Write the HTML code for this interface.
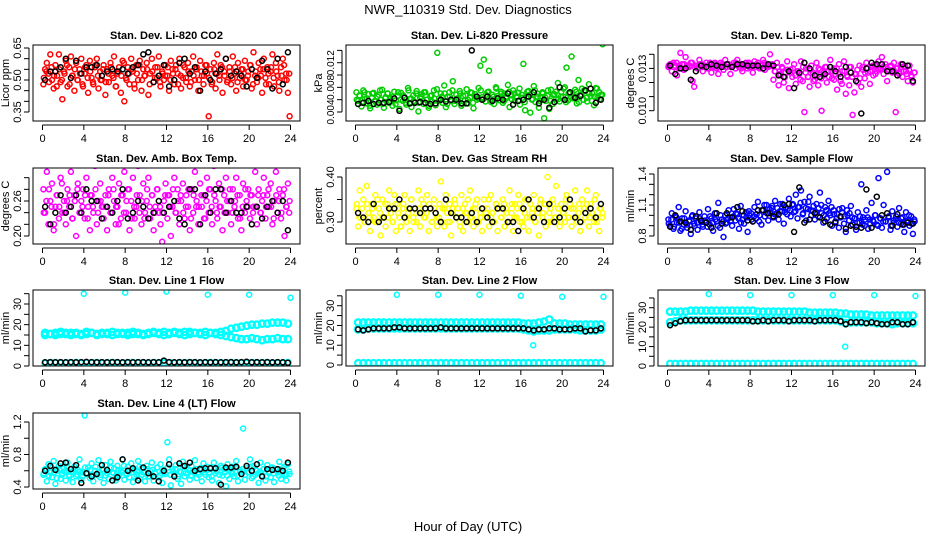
<!DOCTYPE html>
<html><head><meta charset="utf-8"><style>
html,body{margin:0;padding:0;background:#fff}
svg{display:block}
text{font-family:"Liberation Sans",Arial,sans-serif;fill:#000}
</style></head><body>
<svg id="chart" width="936" height="540" viewBox="0 0 936 540" xmlns="http://www.w3.org/2000/svg">
<rect x="0" y="0" width="936" height="540" fill="#fff"/>
<text x="468" y="14" font-size="13" text-anchor="middle">NWR_110319  Std. Dev. Diagnostics</text>
<text x="468" y="531" font-size="13" text-anchor="middle">Hour of Day (UTC)</text>
</svg>
<script>
const xTicks=[0,4,8,12,16,20,24];
// ---- panel 1 CO2 ----
const co2Cyan=[.48,.55,.58,.53,.62,.50,.46,.57,.52,.62,.49,.41,.54,.59,.47,.56,.61,.52,.45,.58,.50,.55,.60,.47,.53,.57,.44,.59,.51,.48,.56,.60,.46,.54,.50,.57,.43,.55,.49,.58,.52,.61,.47,.53,.56,.44,.59,.40,.51,.56,.48,.60,.54,.46,.57,.50,.59,.45,.55,.52,.58,.43,.53,.60,.49,.56,.51,.61,.47,.54,.50,.57,.52,.45,.59,.55,.48,.57,.53,.60,.46,.51,.56,.49,.58,.47,.54,.61,.50,.56,.45,.59,.52,.48,.57,.53,.33,.55,.49,.58,.46,.62,.52,.57,.44,.54,.60,.50,.56,.48,.61,.53,.45,.58,.51,.55,.47,.59,.50,.54,.57,.46,.63,.52,.49,.58,.55,.44,.60,.51,.56,.48,.54,.62,.47,.58,.52,.45,.56,.60,.50,.53,.44,.33];
const co2Core=[.51,.54,.49,.56,.52,.47,.55,.50,.53,.57,.48,.52,.55,.50,.53,.48,.56,.51,.54,.49,.57,.52,.50,.55,.49,.53,.56,.51,.47,.54,.52,.58,.50,.53,.55,.48,.53,.57,.50,.52,.55,.48,.54,.51,.56,.49,.53,.52,.56,.50,.53,.55,.48,.52,.57,.51,.54,.49,.52,.55,.50,.54,.52,.57,.51,.48,.55,.53,.50,.56,.52,.49,.54,.51,.56,.49,.53,.55,.50,.52,.57,.48,.54,.51,.52,.55,.48,.53,.56,.51,.54,.49,.52,.57,.50,.53];
const co2Black=[.50,.54,.54,.56,.60,.51,.59,.53,.56,.56,.57,.52,.54,.55,.54,.55,.53,.56,.57,.62,.63,.49,.52,.57,.47,.50,.58,.60,.53,.56,.45,.54,.50,.53,.55,.60,.52,.54,.52,.47,.55,.51,.59,.55,.46,.60,.48,.63];
// ---- panel 2 pressure ----
const presColor=[.0072,.0058,.0066,.0049,.0075,.0061,.0054,.0069,.0046,.0063,.0071,.0057,.0052,.0068,.0060,.0076,.0047,.0064,.0070,.0055,.0062,.0050,.0073,.0059,.0066,.0045,.0071,.0058,.0064,.0052,.0079,.0061,.0048,.0067,.0056,.0074,.0041,.0063,.0069,.0053,.0072,.0060,.0047,.0066,.0057,.0075,.0051,.0136,.0062,.0070,.0055,.0083,.0048,.0065,.0072,.0058,.0090,.0053,.0068,.0061,.0074,.0050,.0066,.0059,.0077,.0054,.0063,.0071,.0046,.0069,.0060,.0079,.0115,.0064,.0125,.0057,.0072,.0107,.0061,.0068,.0053,.0080,.0066,.0059,.0073,.0055,.0070,.0062,.0084,.0048,.0067,.0075,.0058,.0064,.0071,.0052,.0068,.0118,.0043,.0065,.0074,.0039,.0060,.0082,.0056,.0070,.0047,.0063,.0072,.0030,.0058,.0066,.0045,.0076,.0053,.0069,.0061,.0087,.0057,.0073,.0065,.0080,.0112,.0059,.0071,.0130,.0062,.0076,.0054,.0092,.0068,.0078,.0060,.0074,.0057,.0085,.0066,.0070,.0051,.0079,.0063,.0072,.0068,.0150];
const presCore=[.0060,.0067,.0055,.0072,.0062,.0050,.0070,.0058,.0065,.0075,.0053,.0062,.0070,.0058,.0065,.0053,.0072,.0060,.0067,.0055,.0075,.0062,.0058,.0070,.0055,.0065,.0072,.0060,.0050,.0067,.0062,.0077,.0058,.0065,.0070,.0053,.0065,.0075,.0058,.0062,.0070,.0053,.0067,.0060,.0072,.0055,.0065,.0062,.0075,.0061,.0068,.0073,.0056,.0065,.0078,.0063,.0070,.0058,.0065,.0073,.0061,.0070,.0065,.0078,.0063,.0056,.0073,.0068,.0061,.0075,.0065,.0058,.0070,.0063,.0075,.0058,.0068,.0073,.0061,.0065,.0078,.0056,.0070,.0063,.0065,.0073,.0056,.0068,.0075,.0063,.0070,.0058,.0065,.0078,.0061,.0068];
const presBlack=[.0053,.0055,.0058,.0053,.0055,.0055,.0056,.0062,.0042,.0063,.0054,.0055,.0056,.0055,.0053,.0054,.0060,.0057,.0060,.0060,.0054,.0054,.0140,.0065,.0060,.0065,.0058,.0062,.0060,.0070,.0052,.0058,.0060,.0065,.0072,.0054,.0060,.0047,.0056,.0080,.0060,.0072,.0063,.0066,.0075,.0078,.0055,.0060];
// ---- panel 3 Li-820 temp ----
const tempColor=[.0131,.0133,.0128,.0134,.0132,.0125,.0130,.0141,.0133,.0129,.0138,.0132,.0131,.0134,.0121,.0117,.0132,.0130,.0136,.0133,.0128,.0132,.0134,.0130,.0133,.0127,.0131,.0134,.0130,.0126,.0132,.0133,.0129,.0136,.0131,.0133,.0126,.0132,.0134,.0130,.0136,.0131,.0133,.0128,.0132,.0134,.0130,.0131,.0133,.0127,.0135,.0131,.0134,.0130,.0132,.0136,.0129,.0133,.0131,.0140,.0132,.0122,.0128,.0134,.0118,.0125,.0131,.0120,.0127,.0135,.0116,.0129,.0124,.0133,.0119,.0128,.0126,.0135,.0121,.0099,.0130,.0124,.0117,.0132,.0127,.0122,.0134,.0118,.0129,.0100,.0125,.0131,.0120,.0128,.0136,.0123,.0130,.0126,.0115,.0133,.0121,.0128,.0135,.0112,.0124,.0118,.0131,.0097,.0113,.0126,.0120,.0132,.0117,.0129,.0123,.0134,.0127,.0119,.0131,.0125,.0132,.0128,.0135,.0130,.0138,.0126,.0133,.0121,.0129,.0131,.0127,.0134,.0099,.0130,.0126,.0133,.0124,.0131,.0128,.0121,.0132,.0125,.0120,.0127];
const tempCore=[.0132,.0133,.0131,.0134,.0132,.0130,.0133,.0131,.0132,.0134,.0131,.0132,.0133,.0131,.0132,.0130,.0134,.0132,.0133,.0131,.0134,.0132,.0131,.0133,.0131,.0132,.0134,.0132,.0130,.0133,.0132,.0134,.0131,.0132,.0133,.0131,.0132,.0134,.0131,.0132,.0133,.0128,.0131,.0126,.0130,.0124,.0129,.0127,.0130,.0125,.0128,.0122,.0131,.0127,.0124,.0129,.0121,.0126,.0130,.0123,.0127,.0131,.0124,.0128,.0122,.0130,.0126,.0119,.0128,.0125,.0131,.0124,.0126,.0129,.0123,.0131,.0127,.0130,.0128,.0132,.0126,.0130,.0129,.0131,.0131,.0128,.0132,.0129,.0130,.0127,.0131,.0128,.0126,.0129,.0124,.0127];
const tempBlack=[.0132,.0126,.0130,.0130,.0122,.0128,.0132,.0131,.0133,.0132,.0131,.0133,.0131,.0133,.0133,.0132,.0132,.0132,.0130,.0133,.0132,.0125,.0124,.0128,.0116,.0127,.0134,.0130,.0125,.0124,.0126,.0131,.0128,.0124,.0131,.0127,.0121,.0098,.0130,.0134,.0133,.0133,.0128,.0128,.0125,.0133,.0132,.0121];
// ---- panel 4 amb box temp ----
const ambColor=[.28,.24,.31,.22,.26,.29,.21,.25,.27,.23,.30,.24,.26,.22,.28,.25,.31,.23,.27,.20,.29,.24,.26,.28,.23,.30,.25,.21,.27,.24,.32,.22,.26,.29,.25,.23,.27,.21,.28,.24,.30,.26,.22,.25,.29,.23,.27,.31,.24,.28,.21,.26,.30,.23,.25,.32,.27,.22,.29,.24,.26,.30,.23,.27,.21,.25,.28,.24,.22,.19,.26,.29,.23,.27,.20,.25,.30,.24,.28,.22,.26,.29,.23,.27,.25,.21,.28,.24,.31,.26,.22,.29,.25,.27,.23,.30,.24,.28,.22,.32,.26,.23,.29,.25,.21,.27,.30,.24,.26,.22,.28,.25,.30,.23,.27,.21,.29,.24,.26,.28,.23,.27,.25,.31,.22,.28,.24,.26,.30,.23,.27,.25,.29,.22,.26,.31,.24,.28,.23,.27,.20,.25,.29,.26];
const ambCore=[.24,.26,.28,.25,.22,.27,.25,.29,.24,.26,.27,.23,.26,.28,.24,.25,.27,.23,.27,.25,.28,.24,.26,.25,.25,.27,.24,.28,.25,.22,.27,.24,.26,.28,.23,.25,.27,.24,.26,.23,.28,.25,.27,.24,.28,.25,.24,.27,.27,.25,.28,.24,.26,.27,.24,.25,.28,.23,.27,.25,.25,.27,.23,.26,.28,.25,.27,.24,.25,.28,.24,.26,.28,.24,.26,.27,.23,.25,.28,.25,.27,.24,.25,.27,.24,.27,.25,.28,.25,.23,.27,.26,.24,.28,.25,.24];
const ambBlack=[.25,.22,.24,.27,.24,.25,.27,.24,.28,.26,.26,.23,.25,.24,.26,.28,.23,.24,.26,.25,.23,.24,.26,.24,.25,.26,.23,.22,.28,.28,.22,.27,.24,.28,.28,.24,.26,.24,.24,.25,.22,.25,.23,.25,.26,.24,.26,.21];
// ---- panel 5 RH ----
const rhColor=[.33,.29,.37,.31,.35,.30,.38,.32,.28,.34,.31,.36,.30,.33,.27,.35,.31,.29,.34,.37,.32,.30,.36,.28,.34,.31,.29,.33,.36,.30,.32,.28,.35,.31,.33,.30,.37,.29,.32,.34,.31,.36,.28,.33,.30,.35,.32,.29,.31,.39,.33,.29,.36,.30,.34,.27,.32,.35,.31,.33,.30,.36,.28,.34,.32,.30,.37,.31,.29,.33,.35,.30,.32,.28,.35,.31,.33,.29,.36,.32,.30,.34,.28,.33,.31,.35,.29,.33,.30,.37,.32,.28,.34,.31,.36,.30,.33,.29,.35,.31,.28,.34,.32,.36,.30,.33,.27,.35,.31,.34,.29,.40,.32,.30,.35,.31,.38,.33,.29,.34,.32,.30,.36,.31,.34,.29,.33,.37,.30,.32,.28,.35,.33,.31,.37,.29,.34,.32,.30,.36,.31,.28,.33,.32];
const rhCore=[.34,.31,.33,.30,.34,.31,.33,.30,.35,.32,.31,.34,.31,.33,.30,.34,.32,.29,.34,.31,.33,.35,.30,.32,.33,.35,.31,.32,.34,.30,.33,.31,.34,.30,.33,.32,.30,.33,.34,.31,.29,.33,.32,.35,.31,.33,.34,.30,.31,.33,.32,.35,.31,.30,.34,.33,.31,.34,.32,.30,.34,.31,.33,.34,.30,.32,.35,.31,.33,.30,.32,.34,.32,.34,.30,.33,.34,.31,.33,.30,.32,.35,.31,.33,.33,.31,.34,.30,.33,.34,.31,.32,.35,.30,.33,.31];
const rhBlack=[.32,.31,.30,.34,.30,.31,.33,.33,.35,.31,.33,.33,.32,.33,.33,.32,.30,.35,.32,.31,.31,.30,.32,.30,.33,.31,.30,.33,.33,.30,.30,.28,.33,.35,.31,.33,.30,.34,.30,.31,.33,.35,.31,.30,.32,.33,.31,.34];
// ---- panel 6 sample flow ----
const sfColor=[.96,.90,1.02,.87,.99,.93,1.08,.85,.97,.91,1.04,.88,.95,.82,1.00,.92,.97,.86,1.03,.94,.89,.99,.93,1.06,.91,.97,.85,1.02,.94,1.12,.88,.96,.79,1.00,.93,1.05,.98,.90,1.06,.95,1.01,.87,1.09,.96,.92,1.03,.84,1.00,1.02,.94,1.08,.97,1.13,1.00,.91,1.05,.99,1.10,.95,1.03,1.07,.98,1.14,1.02,.96,1.11,1.04,.92,1.08,1.01,1.16,.99,1.10,1.03,1.20,.97,1.08,1.24,1.01,1.13,.95,1.06,1.18,1.00,1.04,.96,1.11,.99,1.22,1.02,.93,1.08,.97,1.14,1.00,.90,1.05,.94,1.01,.88,.98,1.07,.92,.84,1.00,.95,1.09,.91,.97,.86,1.03,.93,1.30,.98,.90,1.05,.87,.96,1.12,.94,1.00,.91,1.36,.97,.88,1.10,.94,1.42,.99,.86,1.04,.93,.96,.89,1.07,.92,.98,.84,1.03,.95,.90,.99,.82,.94];
const sfCore=[.92,.96,.89,.98,.93,.87,.97,.91,.94,.99,.90,.93,.97,.91,.95,.89,.99,.93,.96,.90,1.00,.94,.92,.97,.95,.99,1.02,.97,.93,1.00,.98,1.04,.96,.99,1.01,.94,1.05,1.10,1.02,1.06,1.09,1.01,1.07,1.04,1.11,1.03,1.06,1.05,1.11,1.04,1.08,1.12,1.02,1.07,1.13,1.05,1.09,1.03,1.07,1.10,1.00,1.05,1.02,1.08,1.01,.97,1.06,1.03,.99,1.05,1.02,.98,.97,.93,.99,.91,.96,.98,.92,.95,1.00,.90,.97,.94,.94,.98,.90,.95,.99,.93,.97,.91,.94,1.00,.92,.96];
const sfBlack=[.89,1.00,.94,.93,.86,.99,.95,.93,.88,1.02,.92,1.02,.98,1.08,1.04,.95,.94,1.05,1.05,1.02,.99,1.01,1.10,1.11,.84,1.27,.93,.96,1.02,.98,.94,.91,.93,.99,.87,.90,.89,.88,1.25,.88,1.18,1.00,1.02,.90,1.01,.91,.93,.92];
// ---- line flows (half-hour bands) ----
const l1BandA=[16,15.5,16,16.5,15.5,16,16,15.5,16.5,16,15.5,16,16,16.5,15.5,16,16,16.5,16,15.5,16,16.5,16,16.5,16,16.5,16,16.5,16.5,16,16,16.5,16,16,16.5,17,18,18.5,19,19.5,20,20,20.5,20.5,21,21,21,20.5];
const l1BandB=[15,15.5,15,15.5,16,15,15.5,15,15.5,16,15,15.5,15.5,15,16,15.5,15,15.5,15.5,15,15.5,16,15.5,15,15.5,16,15.5,15,15.5,16,15.5,15,16,15.5,15,14.5,14,13.5,13,13,13.5,13,12.5,13,13,13.5,13,13];
const l1BandLow=[1.4,1.5,1.6,1.4,1.5,1.5,1.6,1.4,1.5,1.5,1.6,1.4,1.5,1.6,1.5,1.4,1.5,1.6,1.5,1.5,1.4,1.6,1.5,1.5,1.6,1.4,1.5,1.5,1.6,1.5,1.4,1.5,1.6,1.5,1.5,1.4,1.6,1.5,1.5,1.4,1.6,1.5,1.5,1.6,1.4,1.5,1.5,1.6];
const l1Black=[1.8,1.9,1.8,1.9,1.8,1.9,1.8,1.9,2.0,1.9,1.8,1.9,1.8,1.9,1.9,1.8,1.9,1.8,1.9,1.9,1.8,1.9,1.8,2.6,1.9,1.8,1.9,1.8,1.9,1.9,1.8,1.9,1.8,1.9,1.8,1.9,1.9,1.8,1.9,2.1,1.8,1.9,1.8,1.9,1.8,1.9,1.8,1.6];
const l1OutHours=[4,8,12,16,20,24];
const l1OutVals=[35,35.5,36,34.5,34.5,33];
const l2BandA=[21.5,21.5,21.5,21.5,21.5,21.5,21.5,21.5,21.5,21.5,21.5,21.5,21.5,21.5,21.5,21.5,21.5,21.5,21.5,21.5,21.5,21.5,21.5,21.5,21.5,21.5,21.5,21.5,21.5,21.5,21.5,21.5,21,21,21,21.5,22,23,21,21,21,20.5,20.5,20.5,20.5,20.5,20.5,20.5];
const l2BandB=[18,18,18.5,18.5,18.5,18.5,18.5,18.5,18.5,18.5,18.5,18.5,18.5,18.5,18.5,18.5,18.5,18.5,18.5,18.5,18.5,18.5,18.5,18.5,18.5,18.5,18.5,18.5,18.5,18.5,18.5,18.5,18,17.5,17,17.5,17.5,17.5,18,18,18,18,18,17.5,17.5,17.5,17.5,18];
const l2BandLow=[1,1,1,1,1,1,1,1,1,1,1,1,1,1,1,1,1,1,1,1,1,1,1,1,1,1,1,1,1,1,1,1,1,1,1,1,1,1,1,1,1,1,1,1,1,1,1,1];
const l2Black=[18,17.5,18,18.5,18.5,18.5,18.5,19,19,18.5,18.5,18.5,18.5,18.5,18.5,18.5,19,18.5,18.5,18.5,18.5,18.5,18.5,18.5,18.5,18.5,18.5,18.5,18.5,18.5,18.5,18.5,18.5,18,17.5,18,18,18.5,18.5,18,18,18,18.5,18.5,17,17.5,17.5,18.5];
const l2OutHours=[4,8,12,16,17.2,20,24];
const l2OutVals=[35.5,35.5,35.5,35,10,34.5,34.5];
const l3BandA=[28,28,28,28,28.5,28.5,28.5,28.5,28.5,28.5,28.5,28.5,28.5,28.5,28.5,28.5,28.5,28,28,28,28,28,28,28,28,28,28,27.5,27.5,27.5,27.5,27.5,27.5,27,27,26.5,26.5,26.5,26.5,26,26,26,26,26,26,26,26,26];
const l3BandB=[22.5,23,23.5,23.5,23.5,23.5,23.5,23.5,23.5,23.5,23.5,23.5,23.5,23.5,23.5,23.5,23.5,23.5,23.5,23.5,23.5,23.5,23.5,23.5,23.5,23.5,23.5,23.5,23.5,23.5,23.5,23.5,23.5,23,22,22.5,22.5,22.5,22.5,22.5,22,22,22,21.5,22,22,22,22];
const l3BandLow=[1.2,1.2,1.2,1.2,1.2,1.2,1.2,1.2,1.2,1.2,1.2,1.2,1.2,1.2,1.2,1.2,1.2,1.2,1.2,1.2,1.2,1.2,1.2,1.2,1.2,1.2,1.2,1.2,1.2,1.2,1.2,1.2,1.2,1.2,1.2,1.2,1.2,1.2,1.2,1.2,1.2,1.2,1.2,1.2,1.2,1.2,1.2,1.2];
const l3Black=[21,22,23,23.5,23.5,23.5,23.5,23.5,23.5,23.5,23.5,23.5,23.5,23.5,23.5,23.5,23,23,23.5,23,23.5,23.5,23.5,23,23.5,23.5,23.5,23.5,23,23.5,23.5,23.5,23.5,23,21.5,22.5,22.5,22.5,22,22.5,22,21.5,21.5,22.5,22.5,21.5,21.5,22.5];
const l3OutHours=[4,8,12,16,17.2,20,24];
const l3OutVals=[37,36.5,36.5,36.5,10,36.5,36];
// ---- panel 10 line 4 ----
const l4Color=[.55,.62,.47,.68,.58,.52,.72,.44,.60,.66,.50,.57,.63,.48,.70,.55,.59,.46,.65,.53,.61,.74,.49,.58,1.28,.56,.64,.51,.69,.47,.60,.55,.73,.52,.62,.45,.67,.57,.50,.71,.58,.63,.48,.66,.54,.60,.74,.49,.57,.65,.52,.69,.46,.61,.55,.72,.50,.63,.58,.47,.66,.53,.60,.70,.48,.57,.64,.52,.68,.45,.61,.56,.95,.74,.42,.62,.55,.67,.50,.59,.44,.71,.53,.64,.57,.49,.66,.60,.73,.51,.58,.63,.47,.69,.55,.61,.52,.64,.48,.70,.57,.60,.45,.66,.54,.62,.41,.68,.50,.59,.65,.53,.72,.47,.61,.56,1.12,.49,.63,.58,.74,.51,.66,.55,.60,.45,.70,.54,.62,.48,.67,.57,.52,.64,.46,.61,.58,.71,.50,.63,.55,.48,.68,.56];
const l4Core=[.57,.61,.54,.64,.58,.51,.62,.55,.59,.65,.53,.58,.62,.55,.59,.53,.64,.57,.61,.54,.65,.58,.55,.62,.54,.59,.64,.57,.51,.61,.58,.66,.55,.59,.62,.53,.59,.65,.55,.58,.62,.53,.61,.57,.64,.54,.59,.58,.64,.55,.59,.62,.53,.58,.65,.57,.61,.54,.58,.62,.55,.61,.58,.65,.57,.53,.62,.59,.55,.64,.58,.54,.61,.57,.64,.54,.59,.62,.55,.58,.65,.53,.61,.57,.58,.62,.53,.59,.64,.57,.61,.54,.58,.65,.55,.59];
const l4Black=[.60,.66,.61,.69,.70,.62,.67,.45,.57,.53,.56,.67,.61,.48,.52,.74,.60,.63,.48,.64,.57,.53,.47,.60,.68,.53,.69,.66,.70,.60,.62,.63,.63,.63,.43,.64,.64,.65,.56,.66,.60,.68,.53,.62,.61,.62,.60,.70];

const NS='http://www.w3.org/2000/svg';
const svg=document.getElementById('chart');
function mk(tag,attrs,parent){const e=document.createElementNS(NS,tag);for(const k in attrs)e.setAttribute(k,attrs[k]);(parent||svg).appendChild(e);return e;}

const colX=[33,346,658], rowY=[45,168,290,413], PW=267, PH=76;
function panel(cfg){
  const L=colX[cfg.col],T=rowY[cfg.row];
  const g=mk('g',{});
  
  
  const xs=h=>L+9.5+h*(248/24);
  const ys=v=>cfg.p1+(v-cfg.v1)*(cfg.p2-cfg.p1)/(cfg.v2-cfg.v1);
  const t=mk('text',{x:L+PW/2,y:T-6,'font-size':'11','font-weight':'bold','text-anchor':'middle'},g);
  t.textContent=cfg.title;
  
  
  const cid='c'+cfg.col+cfg.row;
  const cp=mk('clipPath',{id:cid},g);mk('rect',{x:L,y:T,width:PW,height:PH},cp);
  const pts=mk('g',{'clip-path':'url(#'+cid+')'},g);
  function series(arr,color,step,name,r,sw){
    const sg=mk('g',{},pts);
    
    
    arr.forEach((v,i)=>{
      const c=mk('circle',{cx:xs(i*step+step/2).toFixed(1),cy:ys(v).toFixed(1),r:r||2.5,fill:'none',stroke:color,'stroke-width':sw||1.5},sg);
      
      
    });
  }
  function outliers(hours,vals,color,name){
    const sg=mk('g',{},pts);
    
    
    hours.forEach((h,i)=>{
      const c=mk('circle',{cx:xs(h).toFixed(1),cy:ys(vals[i]).toFixed(1),r:2.5,fill:'none',stroke:color,'stroke-width':1.5},sg);
      
      
    });
  }
  cfg.draw(series,outliers);
  const b=mk('rect',{x:L,y:T,width:PW,height:PH,fill:'none',stroke:'#000','stroke-width':1},g);
  
  
  const B=T+PH;
  mk('line',{x1:xs(0),y1:B+4,x2:xs(24),y2:B+4,stroke:'#000'},g);
  xTicks.forEach(h=>{
    mk('line',{x1:xs(h),y1:B+4,x2:xs(h),y2:B+9,stroke:'#000'},g);
    const tx=mk('text',{x:xs(h),y:B+21,'font-size':'11','text-anchor':'middle'},g);
    tx.textContent=h;
    
    
  });
  const yt=cfg.ticks;
  mk('line',{x1:L-4,y1:ys(yt[0]),x2:L-4,y2:ys(yt[yt.length-1]),stroke:'#000'},g);
  yt.forEach(v=>mk('line',{x1:L-4,y1:ys(v),x2:L-9,y2:ys(v),stroke:'#000'},g));
  cfg.labels.forEach((s,i)=>{
    const y=ys(cfg.labelVals[i]);
    const tx=mk('text',{x:L-12,y:y,'font-size':cfg.lfs||'11','text-anchor':'middle',transform:'rotate(-90 '+(L-12)+' '+y+')'},g);
    tx.textContent=s;
    
    
  });
  const yl=mk('text',{x:L-24,y:T+PH/2,'font-size':'11','text-anchor':'middle',transform:'rotate(-90 '+(L-24)+' '+(T+PH/2)+')'},g);
  yl.textContent=cfg.ylab;
  
  
}
const H=24/144, Q=0.25, HH=0.5;
panel({name:'panel-co2',col:0,row:0,title:'Stan. Dev. Li-820 CO2',ylab:'Licor ppm',v1:.65,p1:48,v2:.35,p2:112,
 ticks:[.35,.40,.45,.50,.55,.60,.65],labels:['0.35','0.50','0.65'],labelVals:[.35,.50,.65],
 draw:(s)=>{s(co2Core,'#ff0000',Q,'series-co2-core');s(co2Cyan,'#ff0000',H,'series-co2');s(co2Black,'#000',HH,'series-co2-black');}});
panel({name:'panel-pressure',col:1,row:0,title:'Stan. Dev. Li-820 Pressure',ylab:'kPa',v1:.012,p1:62.7,v2:.004,p2:112,lfs:'10',
 ticks:[.004,.006,.008,.010,.012,.014],labels:['0.004','0.008','0.012'],labelVals:[.004,.008,.012],
 draw:(s)=>{s(presCore,'#00cd00',Q,'series-pressure-core');s(presColor,'#00cd00',H,'series-pressure');s(presBlack,'#000',HH,'series-pressure-black');}});
panel({name:'panel-li820-temp',col:2,row:0,title:'Stan. Dev. Li-820 Temp.',ylab:'degrees C',v1:.014,p1:54.3,v2:.010,p2:110.7,
 ticks:[.010,.011,.012,.013,.014],labels:['0.010','0.013'],labelVals:[.010,.013],
 draw:(s)=>{s(tempCore,'#ff00ff',Q,'series-temp-core');s(tempColor,'#ff00ff',H,'series-temp');s(tempBlack,'#000',HH,'series-temp-black');}});
panel({name:'panel-amb-box-temp',col:0,row:1,title:'Stan. Dev. Amb. Box Temp.',ylab:'degrees C',v1:.20,p1:236,v2:.26,p2:201,
 ticks:[.20,.22,.24,.26,.28,.30],labels:['0.20','0.26'],labelVals:[.20,.26],
 draw:(s)=>{s(ambCore,'#ff00ff',Q,'series-amb-core');s(ambColor,'#ff00ff',H,'series-amb');s(ambBlack,'#000',HH,'series-amb-black');}});
panel({name:'panel-gas-rh',col:1,row:1,title:'Stan. Dev. Gas Stream RH',ylab:'percent',v1:.40,p1:177,v2:.30,p2:222,
 ticks:[.30,.35,.40],labels:['0.30','0.40'],labelVals:[.30,.40],
 draw:(s)=>{s(rhCore,'#ffff00',Q,'series-rh-core');s(rhColor,'#ffff00',H,'series-rh');s(rhBlack,'#000',HH,'series-rh-black');}});
panel({name:'panel-sample-flow',col:2,row:1,title:'Stan. Dev. Sample Flow',ylab:'ml/min',v1:1.4,p1:174,v2:.8,p2:236,
 ticks:[.8,.9,1.0,1.1,1.2,1.3,1.4],labels:['0.8','1.1','1.4'],labelVals:[.8,1.1,1.4],
 draw:(s)=>{s(sfCore,'#0000ff',Q,'series-sample-flow-core');s(sfColor,'#0000ff',H,'series-sample-flow');s(sfBlack,'#000',HH,'series-sample-flow-black');}});
panel({name:'panel-line1-flow',col:0,row:2,title:'Stan. Dev. Line 1 Flow',ylab:'ml/min',v1:0,p1:366,v2:30,p2:304,
 ticks:[0,5,10,15,20,25,30,35],labels:['0','10','20','30'],labelVals:[0,10,20,30],
 draw:(s,o)=>{s(l1BandA,'#00ffff',HH,'series-line1-a',3.2,2.4);s(l1BandB,'#00ffff',HH,'series-line1-b',3.2,2.4);s(l1BandLow,'#00ffff',HH,'series-line1-low',3,2);o(l1OutHours,l1OutVals,'#00ffff','series-line1-outliers');s(l1Black,'#000',HH,'series-line1-black');}});
panel({name:'panel-line2-flow',col:1,row:2,title:'Stan. Dev. Line 2 Flow',ylab:'ml/min',v1:0,p1:365,v2:30,p2:305.7,
 ticks:[0,5,10,15,20,25,30,35],labels:['0','10','20','30'],labelVals:[0,10,20,30],
 draw:(s,o)=>{s(l2BandA,'#00ffff',HH,'series-line2-a',3.2,2.4);s(l2BandB,'#00ffff',HH,'series-line2-b',3.2,2.4);s(l2BandLow,'#00ffff',HH,'series-line2-low',3,2.2);o(l2OutHours,l2OutVals,'#00ffff','series-line2-outliers');s(l2Black,'#000',HH,'series-line2-black');}});
panel({name:'panel-line3-flow',col:2,row:2,title:'Stan. Dev. Line 3 Flow',ylab:'ml/min',v1:0,p1:366,v2:30,p2:307.7,
 ticks:[0,5,10,15,20,25,30,35],labels:['0','10','20','30'],labelVals:[0,10,20,30],
 draw:(s,o)=>{s(l3BandA,'#00ffff',HH,'series-line3-a',3.2,2.4);s(l3BandB,'#00ffff',HH,'series-line3-b',3.2,2.4);s(l3BandLow,'#00ffff',HH,'series-line3-low',3,2.2);o(l3OutHours,l3OutVals,'#00ffff','series-line3-outliers');s(l3Black,'#000',HH,'series-line3-black');}});
panel({name:'panel-line4-flow',col:0,row:3,title:'Stan. Dev. Line 4 (LT) Flow',ylab:'ml/min',v1:.4,p1:487,v2:1.2,p2:422,
 ticks:[.4,.6,.8,1.0,1.2],labels:['0.4','0.8','1.2'],labelVals:[.4,.8,1.2],
 draw:(s)=>{s(l4Core,'#00ffff',Q,'series-line4-core');s(l4Color,'#00ffff',H,'series-line4');s(l4Black,'#000',HH,'series-line4-black');}});
</script>
</body></html>
